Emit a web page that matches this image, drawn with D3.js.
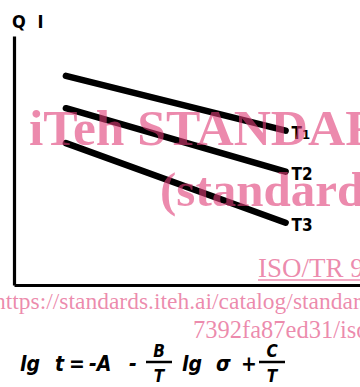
<!DOCTYPE html>
<html><head><meta charset="utf-8">
<script src="https://cdn.jsdelivr.net/npm/d3@7"></script>
<style>
html,body{margin:0;padding:0;background:#fff;overflow:hidden;}
svg{display:block;}
</style></head>
<body>
<svg id="c" width="360" height="387"></svg>
<script>
// ---- data ----
const seriesNames = ["T1", "T2", "T3"];
const lgSigma = [1.5, 7.85];           // start / end of each line (x, lg σ)
const qiStart = [8.4, 7.1, 5.7];        // QI at start
const qiEnd   = [6.2, 4.55, 2.5];       // QI at end
const yAxisLabel = "Q I";
const watermarkLines = [
  "iTeh STANDARD PREVIEW",
  "(standards.iteh.ai)",
  "ISO/TR 9080:1992",
  "https://standards.iteh.ai/catalog/standards/sist/",
  "7392fa87ed31/iso-tr-9080-1992"
];

const svg = d3.select("#c");
const x = d3.scaleLinear().domain([0, 10]).range([14, 360]);
const y = d3.scaleLinear().domain([0, 10]).range([285, 36]);

const ink = "#000";
const handFont = "'DejaVu Sans Condensed','DejaVu Sans',sans-serif";

// axes
const gx = svg.append("g").attr("transform", `translate(0,${y(0)})`)
  .call(d3.axisBottom(x).tickValues([]).tickSizeOuter(0));
const gy = svg.append("g").attr("transform", `translate(${x(0)},0)`)
  .call(d3.axisLeft(y).tickValues([]).tickSizeOuter(0));
[gx, gy].forEach(g => g.select(".domain").attr("stroke", ink).attr("stroke-width", 3.2));

svg.append("text").attr("x", 12).attr("y", 28)
  .attr("font-family", handFont).attr("font-weight", "bold").attr("font-size", 18)
  .attr("letter-spacing", 3).attr("fill", ink).text(yAxisLabel);

// lines
const rows = seriesNames.map((n, i) => ({name: n, pts: [[lgSigma[0], qiStart[i]], [lgSigma[1], qiEnd[i]]]}));
const line = d3.line().x(d => x(d[0])).y(d => y(d[1]));
svg.selectAll("path.s").data(rows).join("path").attr("class", "s")
  .attr("d", d => line(d.pts)).attr("fill", "none").attr("stroke", ink)
  .attr("stroke-width", 6.5).attr("stroke-linecap", "round");

const lab = svg.selectAll("text.l").data(rows).join("text").attr("class", "l")
  .attr("x", d => x(d.pts[1][0]) + 6).attr("y", d => y(d.pts[1][1]) + 8)
  .attr("font-family", handFont).attr("font-weight", "bold").attr("font-size", 17)
  .attr("fill", ink);
lab.append("tspan").text(d => d.name[0]);
lab.append("tspan").attr("font-size", d => d.name === "T1" ? 13 : 17).text(d => d.name.slice(1));

// formula
const f = svg.append("g").attr("font-family", handFont).attr("font-weight", "bold")
  .attr("font-style", "italic").attr("fill", ink).attr("font-size", 21);
const parts = [["lg", 20, 371], ["t", 55, 371], ["=", 69, 371], ["-A", 89, 371], ["-", 129, 371],
  ["lg", 182, 371], ["σ", 216, 371], ["+", 241, 371]];
parts.forEach(p => f.append("text").attr("x", p[1]).attr("y", p[2]).text(p[0]));
[["B", 159], ["C", 272]].forEach(fr => {
  f.append("text").attr("x", fr[1]).attr("y", 357).attr("text-anchor", "middle").attr("font-size", 17).text(fr[0]);
  f.append("line").attr("x1", fr[1] - 13).attr("x2", fr[1] + 13).attr("y1", 362).attr("y2", 362)
    .attr("stroke", ink).attr("stroke-width", 2.5);
  f.append("text").attr("x", fr[1]).attr("y", 382).attr("text-anchor", "middle").attr("font-size", 17).text("T");
});

// watermark
const wm = svg.append("g").attr("fill", "#e03c76").attr("fill-opacity", 0.6)
  .attr("font-family", "'Liberation Serif','Times New Roman',serif");
wm.append("text").attr("x", 29).attr("y", 145).attr("font-weight", "bold").attr("font-size", 51.5).text(watermarkLines[0]);
wm.append("text").attr("x", 160).attr("y", 206).attr("font-weight", "bold").attr("font-size", 49).text(watermarkLines[1]);
wm.append("text").attr("x", 258).attr("y", 277).attr("font-size", 27).text(watermarkLines[2]);
wm.append("line").attr("x1", 258).attr("x2", 360).attr("y1", 280).attr("y2", 280)
  .attr("stroke", "#e03c76").attr("stroke-opacity", 0.6).attr("stroke-width", 1.5);
wm.append("text").attr("x", -6).attr("y", 309).attr("font-size", 23.5).text(watermarkLines[3]);
wm.append("text").attr("x", 193).attr("y", 338).attr("font-size", 24.5).text(watermarkLines[4]);
</script>
</body></html>
